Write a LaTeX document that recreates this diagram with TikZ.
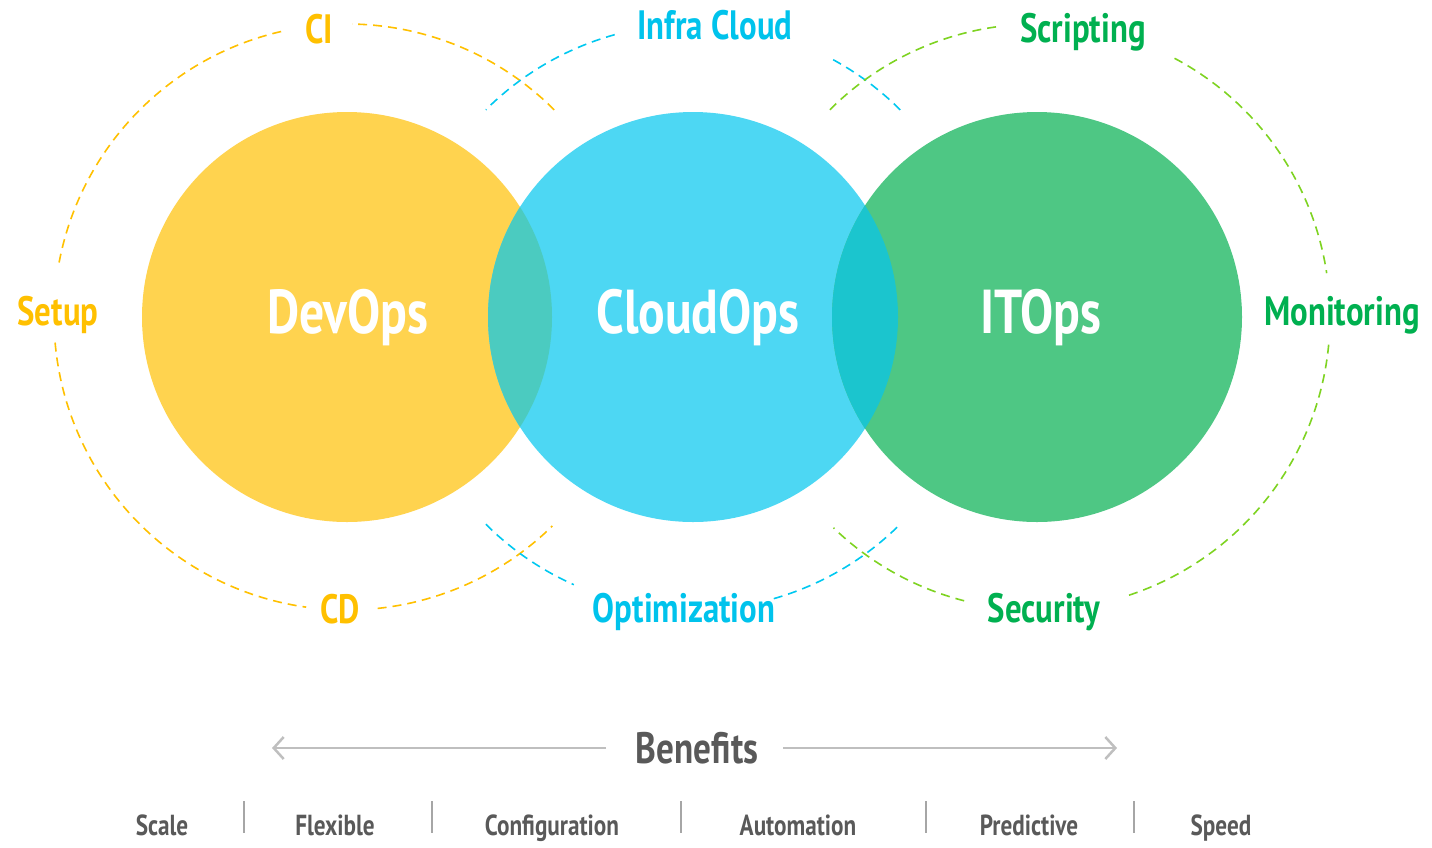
\documentclass[tikz,border=0pt]{standalone}
\usepackage{fontspec}
\newfontfamily\hand{PT Sans}[FakeStretch=0.8]
\usetikzlibrary{arrows.meta}
\definecolor{cyel}{HTML}{FFD34F}
\definecolor{ccya}{HTML}{4DD7F3}
\definecolor{cgre}{HTML}{4EC784}
\definecolor{cyc}{HTML}{4BCBC0}
\definecolor{ccg}{HTML}{1BC5CE}
\definecolor{tyel}{HTML}{FFC000}
\definecolor{tcya}{HTML}{00C3EC}
\definecolor{tgre}{HTML}{00B050}
\definecolor{dgre}{HTML}{7ED321}
\definecolor{dcya}{HTML}{00C8F0}
\definecolor{gline}{HTML}{BFBFBF}
\definecolor{gsep}{HTML}{A6A6A6}
\definecolor{gtext}{HTML}{595959}
\newcommand\harc[4]{\draw[#4] ([shift={(#2:293pt)}]#1) arc[start angle=#2, end angle=#3, radius=293pt];}
\begin{document}
\begin{tikzpicture}[x=1pt,y=1pt,
  dsh/.style={line width=1.6pt, dash pattern=on 9pt off 6pt},
  dy/.style={dsh, tyel},
  dc/.style={dsh, dcya},
  dg/.style={dsh, dgre},
  big/.style={font=\hand\bfseries\fontsize{62}{64}\selectfont, text=white, anchor=base, inner sep=0pt},
  lab/.style={font=\hand\bfseries\fontsize{41}{43}\selectfont, anchor=base, inner sep=0pt},
  bentitle/.style={font=\hand\bfseries\fontsize{44}{46}\selectfont, text=gtext, anchor=base, inner sep=0pt},
  ben/.style={font=\hand\bfseries\fontsize{29}{31}\selectfont, text=gtext, anchor=base, inner sep=0pt},
  barrow/.style={draw=gline, line width=2.5pt, -{Straight Barb[length=10pt,width=22pt]}},
  sep/.style={draw=gsep, line width=1.2pt}]
\useasboundingbox (0,0) rectangle (1432,-847);
\coordinate (c1) at (347,-317);
\coordinate (c2) at (693,-317);
\coordinate (c3) at (1037,-317);
% circles
\fill[cyel] (c1) circle[radius=205pt];
\fill[ccya] (c2) circle[radius=205pt];
\fill[cgre] (c3) circle[radius=205pt];
\begin{scope}
  \clip (c1) circle[radius=205pt];
  \fill[cyc] (c2) circle[radius=205pt];
\end{scope}
\begin{scope}
  \clip (c2) circle[radius=205pt];
  \fill[ccg] (c3) circle[radius=205pt];
\end{scope}
% dashed arcs
\harc{c1}{45}{89}{dy}
\harc{c1}{103}{170}{dy}
\harc{c1}{185}{262}{dy}
\harc{c1}{276}{314.5}{dy}
\harc{c2}{45}{62}{dc}
\harc{c2}{105.5}{135}{dc}
\harc{c2}{225}{246}{dc}
\harc{c2}{286}{315}{dc}
\harc{c3}{135}{97}{dg}
\harc{c3}{62}{8.6}{dg}
\harc{c3}{-5.4}{-72}{dg}
\harc{c3}{255.6}{226}{dg}
% circle labels
\node[big] (devops) at (348,-333) {DevOps};
\node[big] (cloudops) at (698,-333) {CloudOps};
\node[big] (itops) at (1041,-333) {ITOps};
% arc labels
\node[lab, text=tyel] (ci) at (319,-43) {CI};
\node[lab, text=tyel] (setup) at (58,-325) {Setup};
\node[lab, text=tyel] (cd) at (340,-623) {CD};
\node[lab, text=tcya] (infra) at (715,-39) {Infra Cloud};
\node[lab, text=tcya] (optim) at (684,-622) {Optimization};
\node[lab, text=tgre] (script) at (1083,-42) {Scripting};
\node[lab, text=tgre] (monit) at (1342,-325) {Monitoring};
\node[lab, text=tgre] (secur) at (1044,-622) {Security};
% benefits
\node[bentitle] (benefits) at (697,-763) {Benefits};
\coordinate (al0) at (606,-748);
\coordinate (al) at (272,-748);
\coordinate (ar0) at (783,-748);
\coordinate (ar) at (1117,-748);
\draw[barrow] (al0) -- (al);
\draw[barrow] (ar0) -- (ar);
% bottom row
\node[ben] (scale) at (162,-835) {Scale};
\node[ben] (flex) at (335,-835) {Flexible};
\node[ben] (conf) at (552,-835) {Configuration};
\node[ben] (auto) at (798,-835) {Automation};
\node[ben] (pred) at (1029,-835) {Predictive};
\node[ben] (speed) at (1221,-835) {Speed};
\foreach \x in {244,432,681,926,1134}
  \draw[sep] (\x,-801) -- (\x,-833);
\end{tikzpicture}
\end{document}
